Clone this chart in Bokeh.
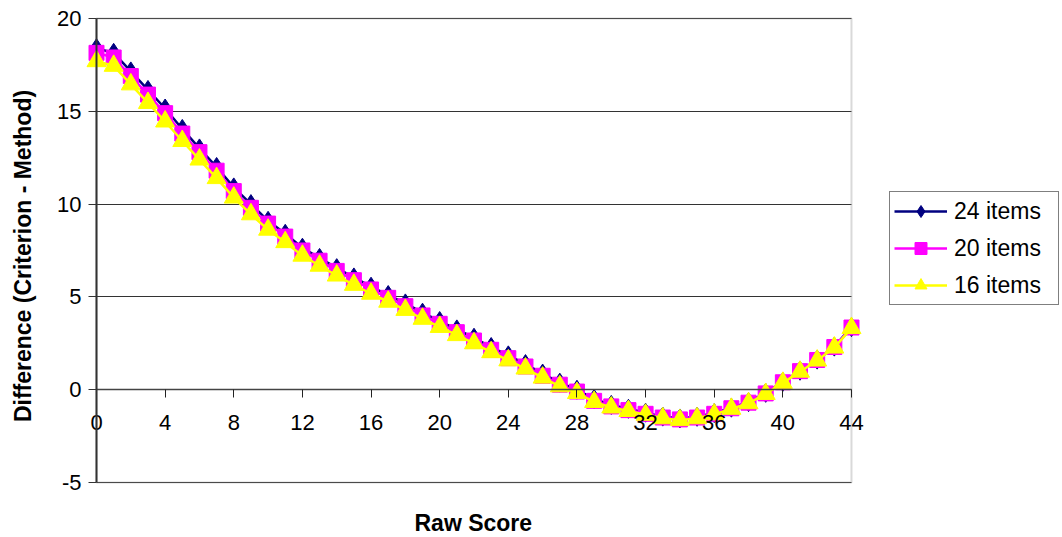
from bokeh.plotting import figure
from bokeh.models import Range1d, Legend, LegendItem, Title, BoxAnnotation, Grid
from bokeh.embed import file_html
from bokeh.resources import INLINE

raw_score = list(range(45))
items24 = [18.4, 18.15, 17.15, 16.15, 15.15, 14.05, 13.0, 12.0, 10.9, 10.0,
           9.1, 8.4, 7.65, 7.1, 6.55, 6.05, 5.55, 5.1, 4.65, 4.15,
           3.7, 3.25, 2.8, 2.3, 1.85, 1.38, 0.87, 0.38, 0.0, -0.5,
           -0.82, -1.03, -1.24, -1.45, -1.55, -1.46, -1.26, -0.97, -0.67, -0.17,
           0.42, 1.02, 1.62, 2.32, 3.37]
items20 = [18.15, 17.9, 16.9, 15.9, 14.9, 13.8, 12.8, 11.8, 10.7, 9.8,
           8.95, 8.25, 7.5, 6.95, 6.4, 5.9, 5.4, 4.95, 4.5, 4.0,
           3.55, 3.1, 2.65, 2.15, 1.7, 1.25, 0.75, 0.27, -0.1, -0.6,
           -0.9, -1.1, -1.3, -1.5, -1.6, -1.5, -1.3, -1.0, -0.7, -0.2,
           0.4, 1.0, 1.6, 2.3, 3.35]
items16 = [17.7, 17.45, 16.45, 15.45, 14.45, 13.4, 12.4, 11.4, 10.35, 9.45,
           8.62, 7.95, 7.22, 6.68, 6.15, 5.65, 5.17, 4.74, 4.3, 3.82,
           3.38, 2.94, 2.5, 2.02, 1.58, 1.14, 0.65, 0.18, -0.18, -0.66,
           -0.96, -1.15, -1.35, -1.54, -1.64, -1.54, -1.33, -1.03, -0.73, -0.23,
           0.37, 0.97, 1.57, 2.27, 3.32]
series_names = ["24 items", "20 items", "16 items"]
x_ticks = [0, 4, 8, 12, 16, 20, 24, 28, 32, 36, 40, 44]
y_ticks = [-5, 0, 5, 10, 15, 20]
x_min, x_max = 0, 44
y_min, y_max = -5, 20

FONT = "Liberation Sans"

# The (invisible) frame is larger than the bordered plot area, so that edge
# labels, markers and the legend are not clipped.
p = figure(width=1062, height=537, output_backend="svg", toolbar_location=None,
           x_range=Range1d(-3.2636, 56.297), y_range=Range1d(-6.347, 20.7543),
           min_border_left=40, min_border_right=0, min_border_top=4,
           min_border_bottom=30)
p.background_fill_color = "white"
p.border_fill_color = "white"
p.outline_line_color = None

# plot-area border
p.add_layout(BoxAnnotation(left=x_min, right=x_max, bottom=y_min, top=y_max,
                           fill_alpha=0, line_color="#808080", line_width=2,
                           level="underlay"))

# y axis at x = 0
ya = p.yaxis[0]
ya.fixed_location = 0
ya.bounds = (y_min, y_max)
ya.ticker = y_ticks
ya.major_label_overrides = {-5: "-5"}
ya.major_tick_out = 8
ya.major_tick_in = 0
ya.minor_tick_line_color = None
ya.major_label_standoff = 7
ya.axis_line_color = "#333333"
ya.axis_line_width = 2
ya.major_tick_line_color = "#333333"
ya.major_label_text_font = FONT
ya.major_label_text_font_size = "22px"
ya.major_label_text_color = "black"

# x axis crossing at y = 0
xa = p.xaxis[0]
xa.fixed_location = 0
xa.bounds = (x_min, x_max)
xa.ticker = x_ticks
xa.major_tick_out = 8
xa.major_tick_in = 0
xa.minor_tick_line_color = None
xa.axis_line_color = "#444444"
xa.axis_line_width = 1.5
xa.major_tick_line_color = "#222222"
xa.major_label_standoff = 17
xa.major_label_text_font = FONT
xa.major_label_text_font_size = "22px"
xa.major_label_text_color = "black"

p.xgrid.visible = False
yg = p.ygrid[0]
yg.grid_line_color = "#333333"
yg.grid_line_width = 1
yg.bounds = (y_min, y_max)
if "cross_bounds" in Grid.properties():
    yg.cross_bounds = (x_min, x_max)

p.add_layout(Title(text="Difference (Criterion - Method)", align="center",
                   text_font=FONT, text_font_size="23px", text_font_style="bold",
                   text_color="black", standoff=9), "left")
p.add_layout(Title(text="Raw Score", align="left", offset=374,
                   text_font=FONT, text_font_size="23px", text_font_style="bold",
                   text_color="black", standoff=0), "below")

l24 = p.line(raw_score, items24, line_color="#000080", line_width=2.5)
s24 = p.scatter(raw_score, items24, marker="diamond", size=19,
                fill_color="#000080", line_color="#000080")
l20 = p.line(raw_score, items20, line_color="#FF00FF", line_width=2.5)
s20 = p.scatter(raw_score, items20, marker="square", size=15,
                fill_color="#FF00FF", line_color="#FF00FF")
l16 = p.line(raw_score, items16, line_color="#FFFF00", line_width=2.5)
s16 = p.scatter(raw_score, items16, marker="triangle", size=19,
                fill_color="#FFFF00", line_color="#FFFF00")

legend = Legend(items=[LegendItem(label=series_names[0], renderers=[l24, s24]),
                       LegendItem(label=series_names[1], renderers=[l20, s20]),
                       LegendItem(label=series_names[2], renderers=[l16, s16])],
                location=(849, 202), orientation="vertical",
                border_line_color="black", border_line_width=1,
                background_fill_color="white", background_fill_alpha=1,
                padding=4, spacing=7, margin=0,
                glyph_width=53, glyph_height=30, label_height=30,
                label_width=100, label_standoff=7,
                label_text_font=FONT, label_text_font_size="23px",
                label_text_color="black")
p.add_layout(legend)

open("out.html", "w").write(file_html(p, INLINE))
